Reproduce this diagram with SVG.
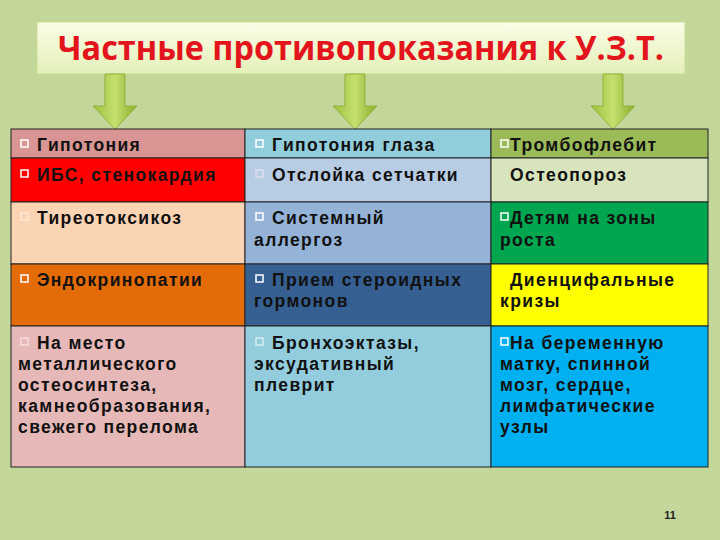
<svg xmlns="http://www.w3.org/2000/svg" width="720" height="540" viewBox="0 0 720 540">
<defs>
<linearGradient id="tg" x1="0" y1="0" x2="0" y2="1"><stop offset="0" stop-color="#fbfde8"/><stop offset="1" stop-color="#e4f0b8"/></linearGradient>
<linearGradient id="ag" x1="0" y1="0" x2="1" y2="0"><stop offset="0" stop-color="#9cc13c"/><stop offset="0.5" stop-color="#c6e070"/><stop offset="1" stop-color="#86ad2c"/></linearGradient>
<g id="arrow"><path d="M-10,0 H10 V32 H22 L0,55 L-22,32 H-10 Z" fill="url(#ag)" stroke="#8fb33a" stroke-width="1"/></g>
</defs>
<style>
.t{font-family:"Liberation Sans",Arial,sans-serif;font-weight:bold;font-size:17.5px;fill:#111;letter-spacing:1.4px}
.c{stroke:#222;stroke-width:1}
.b{fill:none;stroke-width:1.5}
</style>
<rect width="720" height="540" fill="#c4d79b"/>
<g id="title">
<rect x="37" y="22" width="648" height="52" fill="url(#tg)" stroke="#c8dc90"/>
<text x="361" y="60" text-anchor="middle" font-family="'Open Sans','Liberation Sans',sans-serif" font-weight="bold" font-size="34" fill="#e3141c" textLength="606" lengthAdjust="spacingAndGlyphs">Частные противопоказания к У.З.Т.</text>
</g>
<g id="connectors">
<use href="#arrow" x="115" y="74"/>
<use href="#arrow" x="355" y="74"/>
<use href="#arrow" x="613" y="74"/>
</g>
<g id="table">
<rect class="c" x="11" y="129" width="234" height="29" fill="#d99594"/>
<rect class="c" x="245" y="129" width="246" height="29" fill="#92cddc"/>
<rect class="c" x="491" y="129" width="217" height="29" fill="#9bbb59"/>
<rect class="c" x="11" y="158" width="234" height="44" fill="#ff0000"/>
<rect class="c" x="245" y="158" width="246" height="44" fill="#b8cce4"/>
<rect class="c" x="491" y="158" width="217" height="44" fill="#d7e4bc"/>
<rect class="c" x="11" y="202" width="234" height="62" fill="#fbd4b4"/>
<rect class="c" x="245" y="202" width="246" height="62" fill="#95b3d7"/>
<rect class="c" x="491" y="202" width="217" height="62" fill="#00a650"/>
<rect class="c" x="11" y="264" width="234" height="62" fill="#e36c09"/>
<rect class="c" x="245" y="264" width="246" height="62" fill="#366092"/>
<rect class="c" x="491" y="264" width="217" height="62" fill="#ffff00"/>
<rect class="c" x="11" y="326" width="234" height="141" fill="#e6b9b8"/>
<rect class="c" x="245" y="326" width="246" height="141" fill="#93cddd"/>
<rect class="c" x="491" y="326" width="217" height="141" fill="#00b0f0"/>
</g>
<g id="bullets">
<rect class="b" x="21" y="140" width="7" height="7" stroke="#fff"/>
<rect class="b" x="256" y="140" width="7" height="7" stroke="#fff"/>
<rect class="b" x="501" y="140" width="7" height="7" stroke="#fff"/>
<rect class="b" x="21" y="170" width="7" height="7" stroke="#fff"/>
<rect class="b" x="256" y="170" width="7" height="7" stroke="#dde"/>
<rect class="b" x="21" y="213" width="7" height="7" stroke="#fde8d6"/>
<rect class="b" x="256" y="213" width="7" height="7" stroke="#fff"/>
<rect class="b" x="501" y="213" width="7" height="7" stroke="#fff"/>
<rect class="b" x="21" y="275" width="7" height="7" stroke="#fff"/>
<rect class="b" x="256" y="275" width="7" height="7" stroke="#fff"/>
<rect class="b" x="21" y="338" width="7" height="7" stroke="#f5dede"/>
<rect class="b" x="256" y="338" width="7" height="7" stroke="#d8eef4"/>
<rect class="b" x="501" y="338" width="7" height="7" stroke="#fff"/>
</g>
<g id="texts">
<text class="t" x="37" y="151">Гипотония</text>
<text class="t" x="272" y="151">Гипотония глаза</text>
<text class="t" x="510" y="151">Тромбофлебит</text>
<text class="t" x="37" y="181">ИБС, стенокардия</text>
<text class="t" x="272" y="181">Отслойка сетчатки</text>
<text class="t" x="510" y="181">Остеопороз</text>
<text class="t" x="37" y="224">Тиреотоксикоз</text>
<text class="t" x="272" y="224">Системный</text>
<text class="t" x="254" y="246">аллергоз</text>
<text class="t" x="510" y="224">Детям на зоны</text>
<text class="t" x="500" y="246">роста</text>
<text class="t" x="37" y="286">Эндокринопатии</text>
<text class="t" x="272" y="286">Прием стероидных</text>
<text class="t" x="254" y="307">гормонов</text>
<text class="t" x="510" y="286">Диенцифальные</text>
<text class="t" x="500" y="307">кризы</text>
<text class="t" x="37" y="349">На место</text>
<text class="t" x="18" y="370">металлического</text>
<text class="t" x="18" y="391">остеосинтеза,</text>
<text class="t" x="18" y="412">камнеобразования,</text>
<text class="t" x="18" y="433">свежего перелома</text>
<text class="t" x="272" y="349">Бронхоэктазы,</text>
<text class="t" x="254" y="370">эксудативный</text>
<text class="t" x="254" y="391">плеврит</text>
<text class="t" x="510" y="349">На беременную</text>
<text class="t" x="500" y="370">матку, спинной</text>
<text class="t" x="500" y="391">мозг, сердце,</text>
<text class="t" x="500" y="412">лимфатические</text>
<text class="t" x="500" y="433">узлы</text>
</g>
<text x="670" y="519" text-anchor="middle" font-family="'Liberation Sans',sans-serif" font-weight="bold" font-size="11" fill="#222">11</text>
</svg>
